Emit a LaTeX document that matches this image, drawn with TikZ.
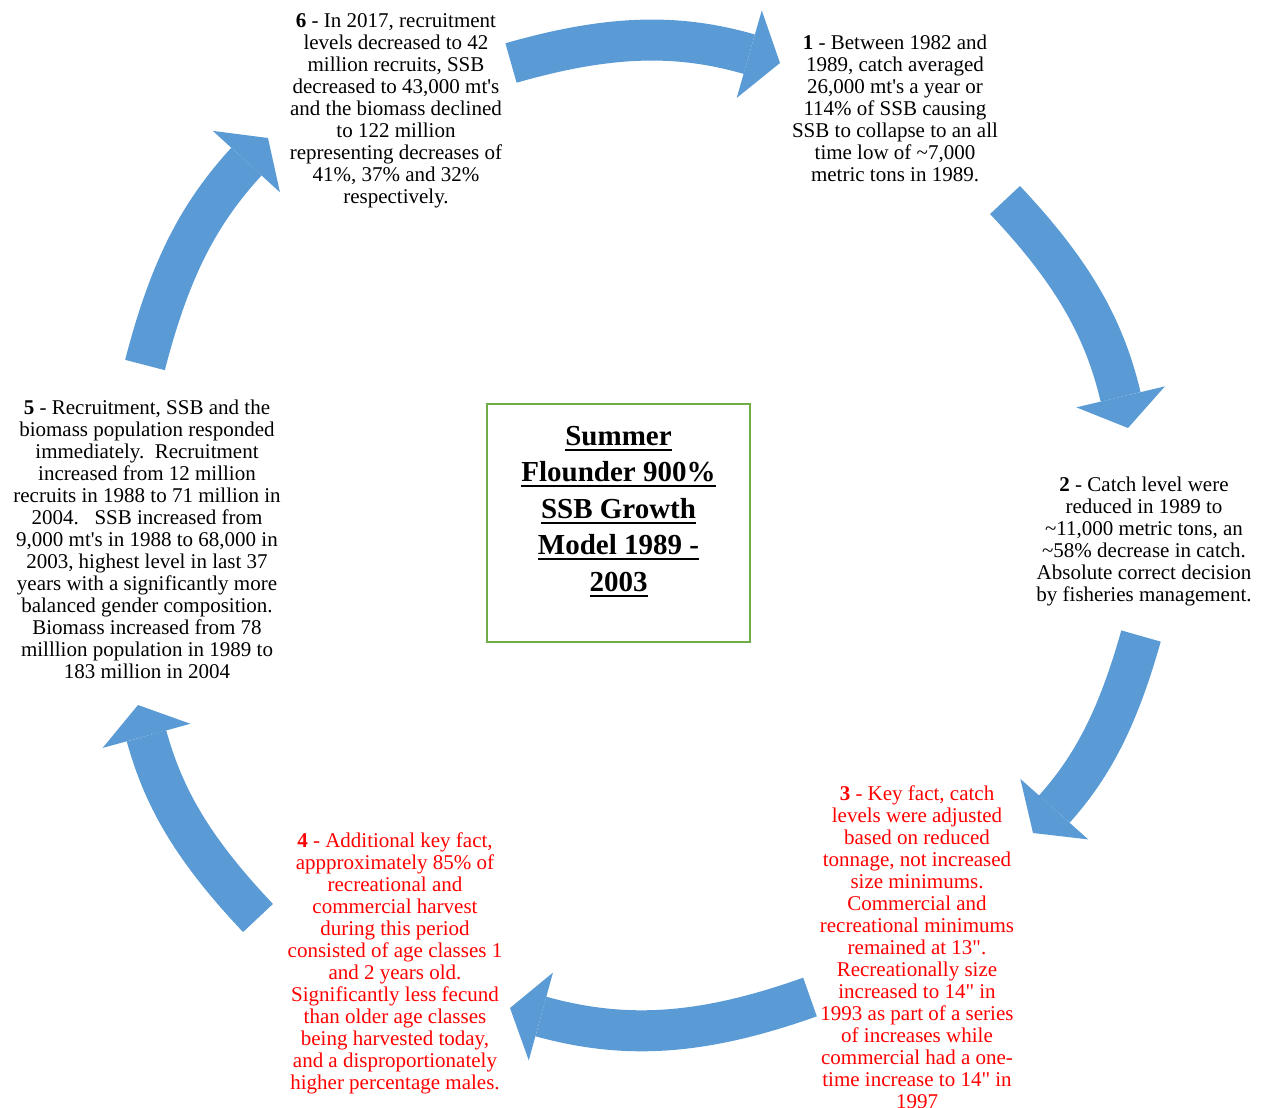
\documentclass[tikz,border=0pt]{standalone}
\usepackage{fontspec}
\setmainfont{Liberation Serif}
\usetikzlibrary{arrows.meta}
\definecolor{cycleblue}{RGB}{91,155,213}
\definecolor{boxgreen}{RGB}{112,173,71}
\newsavebox{\ulbox}
\newcommand{\titleul}[1]{\sbox\ulbox{#1}\rlap{\rule[-2.8pt]{\wd\ulbox}{1pt}}\usebox\ulbox}
\newcommand{\ap}{\textquotesingle}
\newcommand{\inch}{\textquotedbl}

\begin{document}
\begin{tikzpicture}[x=0.5pt,y=0.5pt,
  blurb/.style={align=center,anchor=north,inner sep=0pt,font=\fontsize{10.5}{11}\selectfont},
  redblurb/.style={blurb,text=red},
  cyclearrow/.style={draw=cycleblue,line width=20.5pt,-{Triangle[width=45.5pt,length=16pt,line width=0pt]}}]

\useasboundingbox (0,0) rectangle (1264,-1108);

% centre box
\node[draw=boxgreen,line width=1.25pt,minimum width=131.5pt,minimum height=119pt] (frame) at (618.5,-523) {};
\node[anchor=north,inner sep=0pt,align=center,font=\fontsize{14.5}{18.25}\selectfont\bfseries] (title) at ([yshift=-11.5pt]frame.north)
  {\titleul{Summer}\\ \titleul{Flounder 900\%}\\ \titleul{SSB Growth}\\ \titleul{Model 1989 -}\\ \titleul{2003}};

% steps
\node[blurb] (one) at (895,-35) {\textbf{1} - Between 1982 and\\ 1989, catch averaged\\ 26,000 mt\ap s a year or\\ 114\% of SSB causing\\ SSB to collapse to an all\\ time low of \textasciitilde7,000\\ metric tons in 1989.};
\node[blurb] (two) at (1144,-477) {\textbf{2} - Catch level were\\ reduced in 1989 to\\ \textasciitilde11,000 metric tons, an\\ \textasciitilde58\% decrease in catch.\\ Absolute correct decision\\ by fisheries management.};
\node[redblurb] (three) at (917,-785) {\textbf{3} - Key fact, catch\\ levels were adjusted\\ based on reduced\\ tonnage, not increased\\ size minimums.\\ Commercial and\\ recreational minimums\\ remained at 13\inch.\\ Recreationally size\\ increased to 14\inch{} in\\ 1993 as part of a series\\ of increases while\\ commercial had a one-\\ time increase to 14\inch{} in\\ 1997};
\node[redblurb] (four) at (395,-832) {\textbf{4} - Additional key fact,\\ appproximately 85\% of\\ recreational and\\ commercial harvest\\ during this period\\ consisted of age classes 1\\ and 2 years old.\\ Significantly less fecund\\ than older age classes\\ being harvested today,\\ and a disproportionately\\ higher percentage males.};
\node[blurb] (five) at (147,-400) {\textbf{5} - Recruitment, SSB and the\\ biomass population responded\\ immediately.\ \ Recruitment\\ increased from 12 million\\ recruits in 1988 to 71 million in\\ 2004.\ \ \ SSB increased from\\ 9,000 mt\ap s in 1988 to 68,000 in\\ 2003, highest level in last 37\\ years with a significantly more\\ balanced gender composition.\\ Biomass increased from 78\\ milllion population in 1989 to\\ 183 million in 2004};
\node[blurb] (six) at (396,-13) {\textbf{6} - In 2017, recruitment\\ levels decreased to 42\\ million recruits, SSB\\ decreased to 43,000 mt\ap s\\ and the biomass declined\\ to 122 million\\ representing decreases of\\ 41\%, 37\% and 32\%\\ respectively.};

% arrow ends
\coordinate (s1) at (511,-63);   \coordinate (e1) at (780,-63);
\coordinate (s2) at (1005,-200); \coordinate (e2) at (1128,-428);
\coordinate (s3) at (1141,-636); \coordinate (e3) at (1033,-833);
\coordinate (s4) at (810,-997);  \coordinate (e4) at (510,-1008);
\coordinate (s5) at (258,-918);  \coordinate (e5) at (138,-705);
\coordinate (s6) at (145,-365);  \coordinate (e6) at (268,-138);

% cycle arrows
\draw[cyclearrow] (s1) to[bend left=16] (e1);
\draw[cyclearrow] (s2) to[bend left=15] (e2);
\draw[cyclearrow] (s3) to[bend left=13] (e3);
\draw[cyclearrow] (s4) to[bend left=17.5] (e4);
\draw[cyclearrow] (s5) to[bend left=14] (e5);
\draw[cyclearrow] (s6) to[bend left=14] (e6);

\end{tikzpicture}
\end{document}
